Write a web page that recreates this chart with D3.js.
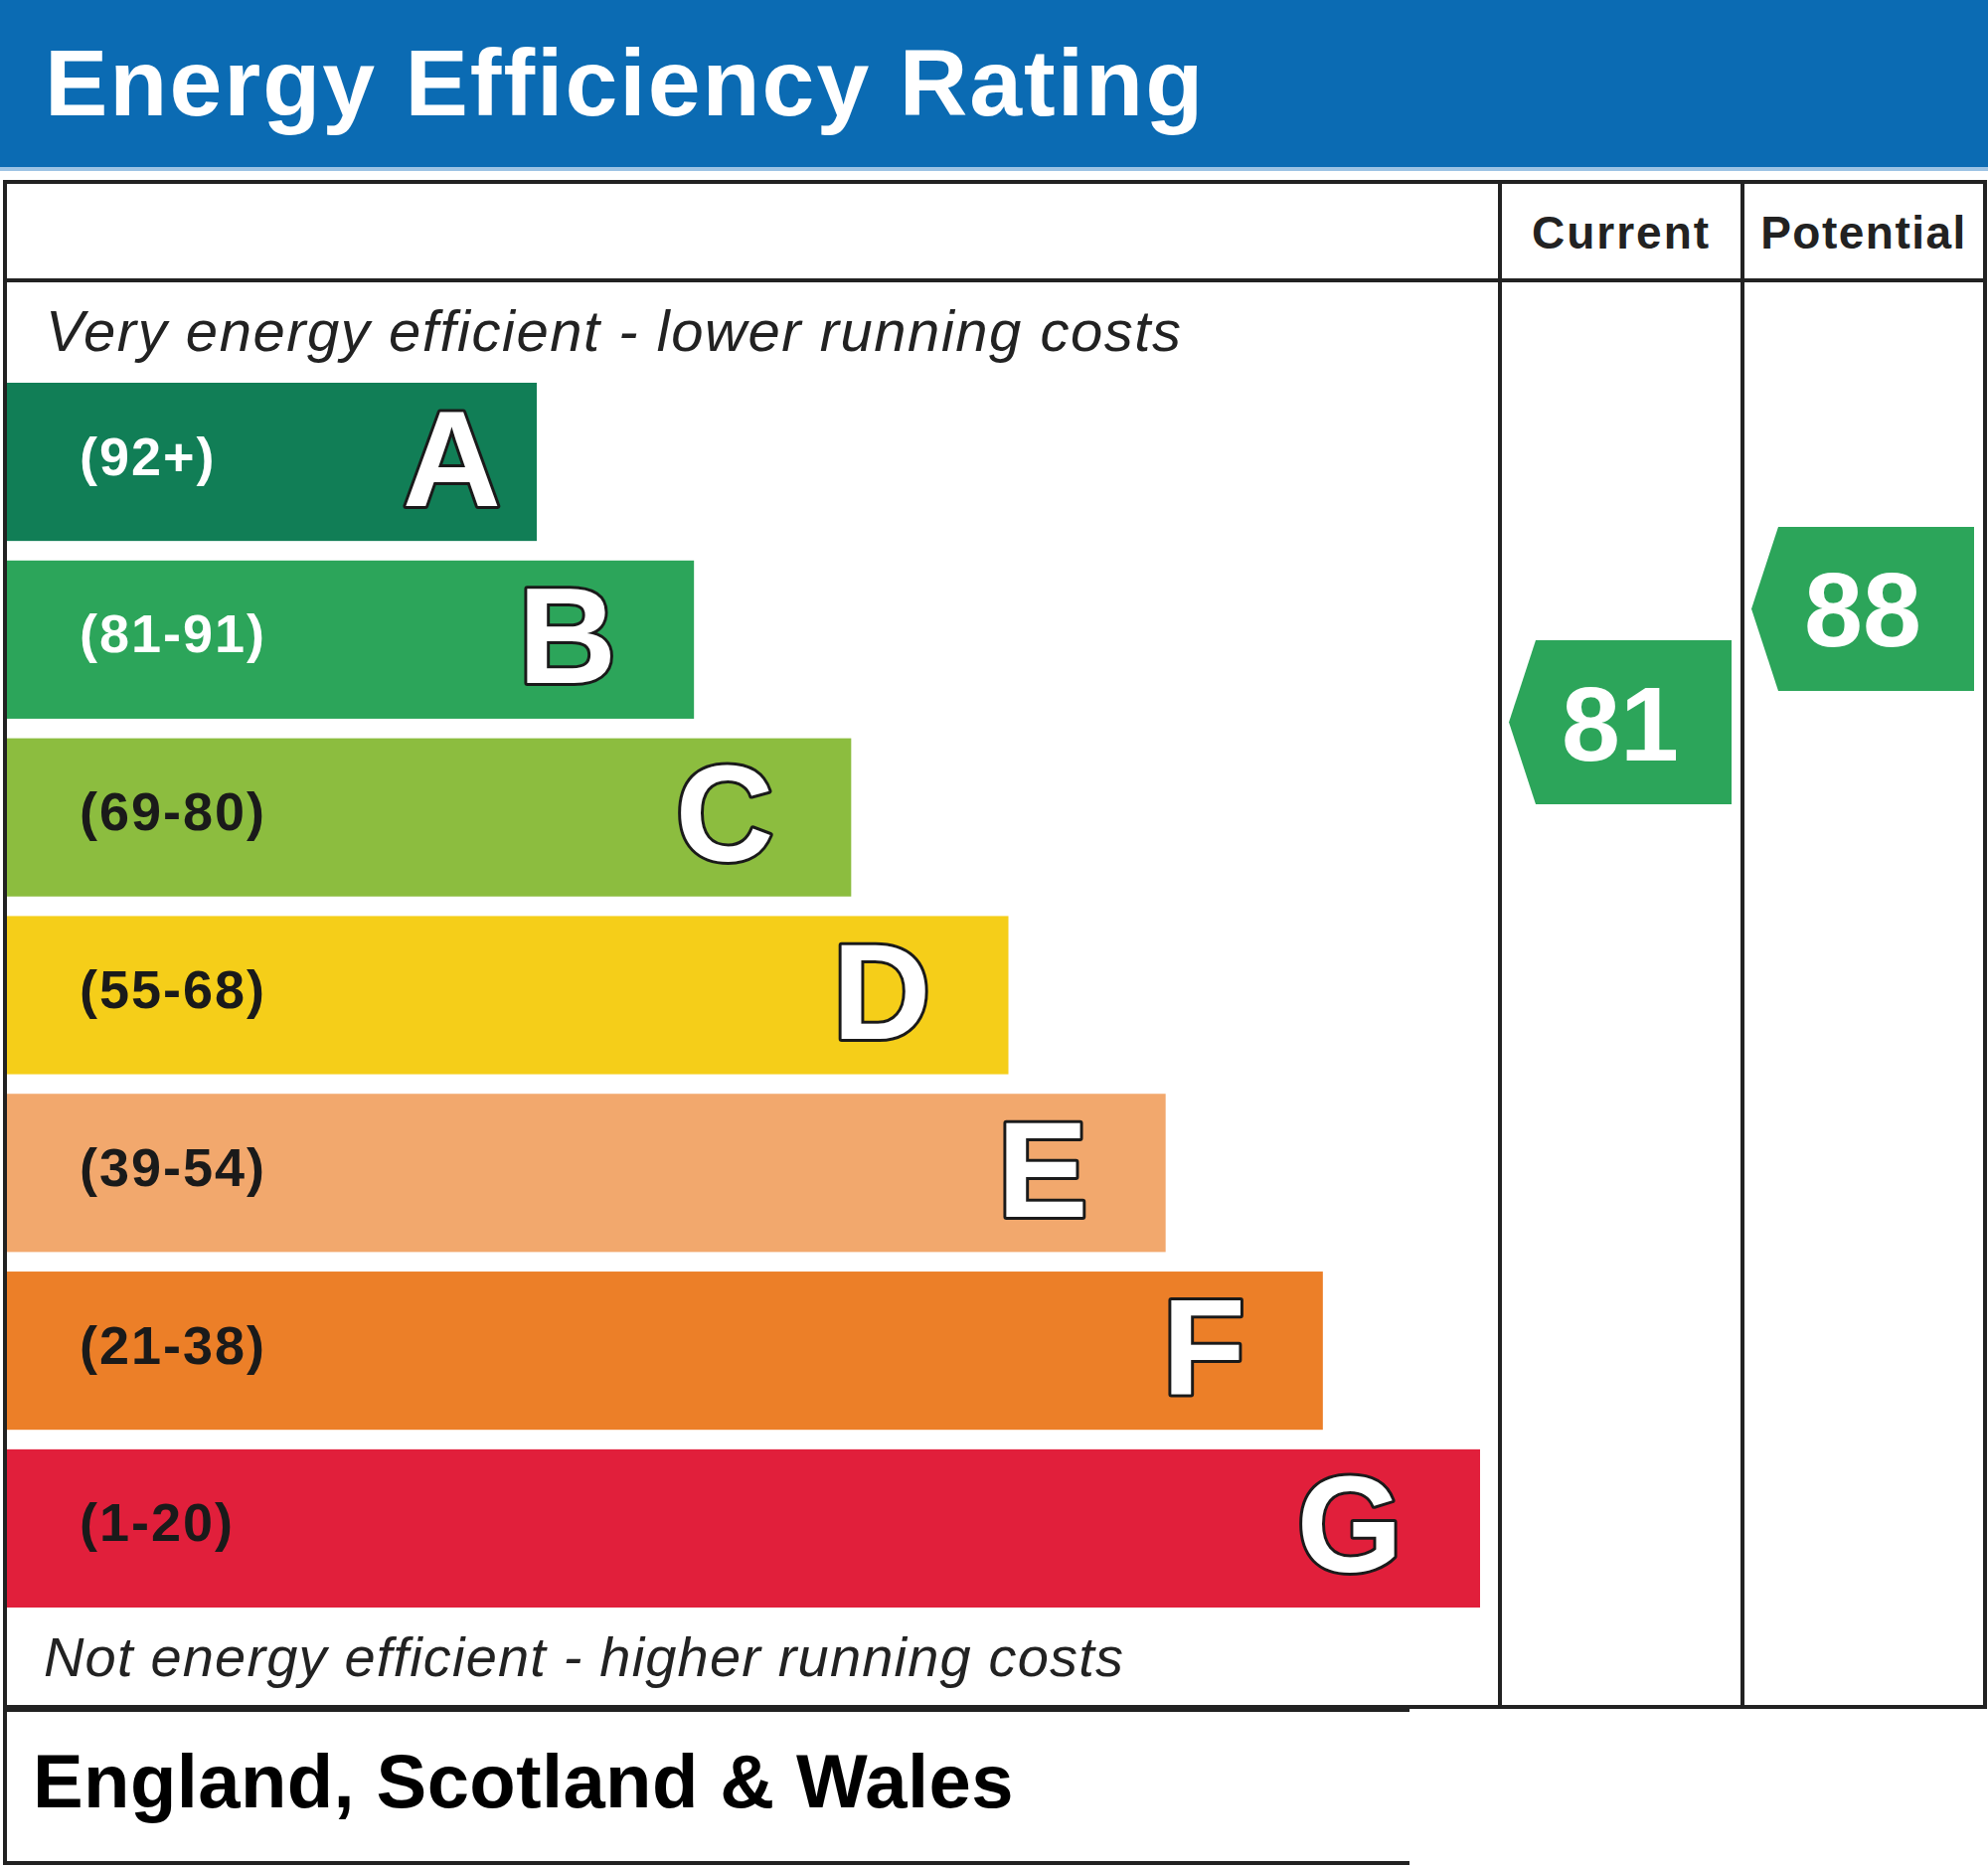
<!DOCTYPE html>
<html>
<head>
<meta charset="utf-8">
<script src="https://cdn.jsdelivr.net/npm/d3@7"></script>
<style>
  html, body { margin: 0; padding: 0; background: #ffffff; }
  svg { display: block; }
  text { font-family: "Liberation Sans", Arial, Helvetica, sans-serif; }
</style>
</head>
<body>
<svg id="chart" width="2000" height="1878"></svg>
<script>
// ---- data ----
const title = "Energy Efficiency Rating";
const ratings = ["A", "B", "C", "D", "E", "F", "G"];
const ranges = ["(92+)", "(81-91)", "(69-80)", "(55-68)", "(39-54)", "(21-38)", "(1-20)"];
const barRank = [1, 2, 3, 4, 5, 6, 7];
const barColors = ["#117e56", "#2ca55a", "#8cbd3f", "#f5ce19", "#f2a86d", "#ec7f28", "#e11f3b"];
const columns = ["Current", "Potential"];
const scores = [81, 88];
const topNote = "Very energy efficient - lower running costs";
const bottomNote = "Not energy efficient - higher running costs";
const footer = "England, Scotland & Wales";

// ---- layout ----
const svg = d3.select("#chart");
const W = 2000, H = 1878;
const line = "#222222";
const tableL = 5, tableR = 1997, tableT = 183, headB = 282, tableB = 1717;
const colSplit = 1509;

svg.append("rect").attr("x", 0).attr("y", 0).attr("width", W).attr("height", H).attr("fill", "#ffffff");

// header band
svg.append("rect").attr("x", 0).attr("y", 0).attr("width", W).attr("height", 168).attr("fill", "#0b6bb3");
svg.append("rect").attr("x", 0).attr("y", 168).attr("width", W).attr("height", 4).attr("fill", "#9cc3e4");
svg.append("text").attr("x", 45).attr("y", 116)
  .attr("fill", "#ffffff").attr("font-weight", "bold").attr("font-size", 95)
  .attr("letter-spacing", 2).text(title);

// scales
const yBand = d3.scaleBand().domain(ratings).range([385, 1617]).paddingInner(0.11).paddingOuter(0);
const xEnd = d3.scaleLinear().domain([1, 7]).range([540, 1489]);
const colX = d3.scaleBand().domain(columns).range([colSplit, tableR]);
const yScore = d3.scaleLinear().domain([0, 100]).range([2046, 417]);

// bars
const bars = svg.append("g").selectAll("g").data(ratings).join("g");
bars.append("rect")
  .attr("x", 6)
  .attr("y", d => yBand(d))
  .attr("width", (d, i) => xEnd(barRank[i]) - 6)
  .attr("height", yBand.bandwidth())
  .attr("fill", (d, i) => barColors[i]);
bars.append("text")
  .attr("x", 80)
  .attr("y", d => yBand(d) + yBand.bandwidth() / 2 + 13)
  .attr("font-size", 54).attr("font-weight", "bold").attr("letter-spacing", 2)
  .attr("fill", (d, i) => i < 2 ? "#ffffff" : "#1a1a1a")
  .text((d, i) => ranges[i]);
bars.append("text")
  .attr("x", (d, i) => xEnd(barRank[i]) - (i === 0 ? 36 : 78))
  .attr("y", d => yBand(d) + yBand.bandwidth() / 2 + 44)
  .attr("text-anchor", "end")
  .attr("font-size", 137).attr("font-weight", "bold")
  .attr("fill", "#ffffff").attr("stroke", "#1a1a1a").attr("stroke-width", 6)
  .attr("paint-order", "stroke").attr("stroke-linejoin", "round")
  .text(d => d);

// notes
svg.append("text").attr("x", 46).attr("y", 353)
  .attr("font-size", 58).attr("font-style", "italic").attr("fill", "#222")
  .attr("textLength", 1142).attr("lengthAdjust", "spacing").text(topNote);
svg.append("text").attr("x", 44).attr("y", 1686)
  .attr("font-size", 56).attr("font-style", "italic").attr("fill", "#222")
  .attr("textLength", 1086).attr("lengthAdjust", "spacing").text(bottomNote);

// table lines
const g = svg.append("g").attr("fill", "none").attr("stroke", line).attr("stroke-width", 4);
g.append("rect").attr("x", tableL).attr("y", tableT).attr("width", tableR - tableL).attr("height", tableB - tableT);
g.append("line").attr("x1", tableL).attr("x2", tableR).attr("y1", headB).attr("y2", headB);
columns.forEach(c => {
  g.append("line").attr("x1", colX(c)).attr("x2", colX(c)).attr("y1", tableT).attr("y2", tableB);
});

// column headers
svg.append("g").selectAll("text").data(columns).join("text")
  .attr("x", d => colX(d) + colX.bandwidth() / 2)
  .attr("y", 250)
  .attr("text-anchor", "middle")
  .attr("font-size", 46).attr("font-weight", "bold").attr("fill", "#222")
  .attr("letter-spacing", (d, i) => i === 0 ? 2 : 1.5)
  .text(d => d);

// score arrows
const arrowW = 224, arrowH = 165, tip = 27;
const arrows = svg.append("g").selectAll("g").data(columns).join("g");
arrows.append("path")
  .attr("d", (d, i) => {
    const x0 = colX(d) + 9, x1 = x0 + arrowW, yc = yScore(scores[i]);
    return `M${x0},${yc} L${x0 + tip},${yc - arrowH / 2} L${x1},${yc - arrowH / 2} L${x1},${yc + arrowH / 2} L${x0 + tip},${yc + arrowH / 2} Z`;
  })
  .attr("fill", (d, i) => barColors[1]);
arrows.append("text")
  .attr("x", d => colX(d) + 9 + arrowW / 2)
  .attr("y", (d, i) => yScore(scores[i]) + 38)
  .attr("text-anchor", "middle")
  .attr("font-size", 106).attr("font-weight", "bold").attr("fill", "#ffffff")
  .text((d, i) => scores[i]);

// footer
const fg = svg.append("g").attr("stroke", line).attr("stroke-width", 4);
fg.append("line").attr("x1", tableL).attr("x2", 1418).attr("y1", 1720).attr("y2", 1720);
fg.append("line").attr("x1", tableL).attr("x2", 1418).attr("y1", 1874).attr("y2", 1874);
fg.append("line").attr("x1", tableL).attr("x2", tableL).attr("y1", 1717).attr("y2", 1876);
svg.append("text").attr("x", 33).attr("y", 1818)
  .attr("font-size", 76).attr("font-weight", "bold").attr("fill", "#000")
  .attr("letter-spacing", 0.4)
  .text(footer);
</script>
</body>
</html>
